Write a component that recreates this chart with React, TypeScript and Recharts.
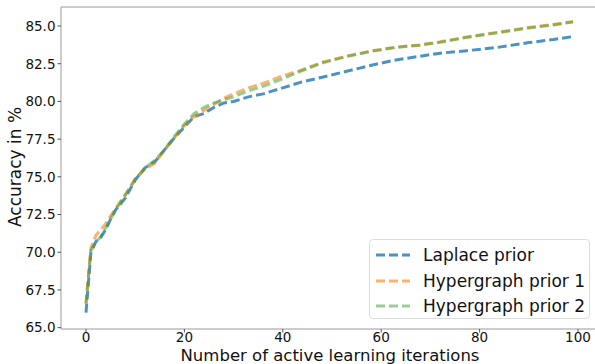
import { LineChart, Line, XAxis, YAxis, ReferenceLine } from "recharts";

// values
const ITERATIONS = [0, 1, 2, 3, 4, 5, 6, 8, 10, 12, 14, 16, 18, 20, 22, 24, 26, 28, 30, 33, 36, 40, 44, 48, 53, 58, 63, 68, 72, 77, 84, 90, 95, 99];
const LAPLACE = [66.0, 70.0, 70.7, 71.0, 71.5, 72.2, 72.8, 73.6, 74.8, 75.6, 76.0, 76.8, 77.6, 78.3, 79.0, 79.2, 79.6, 79.9, 80.0, 80.3, 80.5, 80.9, 81.3, 81.6, 82.0, 82.4, 82.75, 83.0, 83.2, 83.35, 83.6, 83.9, 84.1, 84.3];
const HYPER_1 = [66.6, 70.3, 71.1, 71.5, 71.9, 72.4, 72.9, 73.8, 74.9, 75.5, 75.9, 76.8, 77.6, 78.4, 79.0, 79.4, 79.8, 80.2, 80.5, 80.9, 81.2, 81.7, 82.1, 82.6, 83.0, 83.35, 83.6, 83.75, 83.95, 84.25, 84.6, 84.9, 85.1, 85.3];
const HYPER_2 = [66.6, 70.1, 70.7, 71.0, 71.6, 72.2, 72.8, 73.8, 74.8, 75.6, 76.1, 76.8, 77.7, 78.5, 79.2, 79.6, 79.9, 80.1, 80.3, 80.7, 81.0, 81.5, 82.05, 82.55, 82.98, 83.32, 83.58, 83.73, 83.92, 84.22, 84.57, 84.87, 85.07, 85.27];

const X_TICKS = [0, 20, 40, 60, 80, 100];
const Y_TICKS = [65, 67.5, 70, 72.5, 75, 77.5, 80, 82.5, 85];
const Y_DOMAIN = [64.91, 86.26];

const SERIES = [
    { key: "laplace", name: "Laplace prior", color: "#1f77b4", opacity: 0.8 },
    { key: "hyper1", name: "Hypergraph prior 1", color: "#ff7f0e", opacity: 0.6 },
    { key: "hyper2", name: "Hypergraph prior 2", color: "#2ca02c", opacity: 0.5 },
];

const data = ITERATIONS.map((it, i) => ({
    it,
    laplace: LAPLACE[i],
    hyper1: HYPER_1[i],
    hyper2: HYPER_2[i],
}));

const FONT = "'DejaVu Sans', sans-serif";
const tickStyle = { fontSize: 13.5, fill: "#111", fontFamily: FONT };

export default function App() {
    return (
        <div
            style={{
                position: "absolute",
                left: 0,
                top: 0,
                width: 595,
                height: 364,
                overflow: "hidden",
                background: "#fff",
                fontFamily: FONT,
            }}
        >
            <LineChart
                width={597}
                height={364}
                data={data}
                margin={{ top: 7, right: 0, bottom: 0, left: 0 }}
            >
                <XAxis
                    dataKey="it"
                    type="number"
                    domain={[-5.08, 103.86]}
                    ticks={X_TICKS}
                    allowDataOverflow
                    height={35}
                    tick={tickStyle}
                    tickSize={3.5}
                    tickMargin={0}
                    axisLine={{ stroke: "#9a9a9a" }}
                    tickLine={{ stroke: "#555" }}
                    label={{
                        content: () => (
                            <text
                                x={330}
                                y={360.8}
                                textAnchor="middle"
                                fontSize={16.5}
                                fontFamily={FONT}
                                fill="#111"
                            >
                                Number of active learning iterations
                            </text>
                        ),
                    }}
                />
                <YAxis
                    type="number"
                    domain={Y_DOMAIN}
                    ticks={Y_TICKS}
                    allowDataOverflow
                    width={61}
                    tick={tickStyle}
                    tickSize={3.5}
                    tickMargin={2}
                    tickFormatter={(v: number) => v.toFixed(1)}
                    axisLine={{ stroke: "#9a9a9a" }}
                    tickLine={{ stroke: "#555" }}
                    label={{
                        content: () => (
                            <text
                                x={15}
                                y={167}
                                transform="rotate(-90 15 167)"
                                textAnchor="middle"
                                dominantBaseline="central"
                                fontSize={17}
                                fontFamily={FONT}
                                fill="#111"
                            >
                                Accuracy in %
                            </text>
                        ),
                    }}
                />
                {/* top spine */}
                <ReferenceLine y={Y_DOMAIN[1]} stroke="#9a9a9a" strokeWidth={1} ifOverflow="visible" />
                {SERIES.map((s) => (
                    <Line
                        key={s.key}
                        dataKey={s.key}
                        name={s.name}
                        type="linear"
                        stroke={s.color}
                        strokeOpacity={s.opacity}
                        strokeWidth={3}
                        strokeDasharray="9 4"
                        dot={false}
                        activeDot={false}
                        isAnimationActive={false}
                    />
                ))}
            </LineChart>

            {/* legend box, lower right */}
            <div
                style={{
                    position: "absolute",
                    left: 369,
                    top: 239,
                    width: 221,
                    height: 80,
                    border: "1px solid #ddd",
                    borderRadius: 4,
                    background: "rgba(255,255,255,0.8)",
                    boxSizing: "border-box",
                }}
            >
                {SERIES.map((s, i) => (
                    <div
                        key={s.key}
                        style={{
                            position: "absolute",
                            left: 6,
                            top: 3 + i * 25.5,
                            height: 24,
                            display: "flex",
                            alignItems: "center",
                            whiteSpace: "nowrap",
                        }}
                    >
                        <svg width={34} height={6} style={{ display: "block" }}>
                            <line
                                x1={0}
                                y1={3}
                                x2={34}
                                y2={3}
                                stroke={s.color}
                                strokeOpacity={s.opacity}
                                strokeWidth={3}
                                strokeDasharray="9 4"
                            />
                        </svg>
                        <span
                            style={{
                                marginLeft: 13,
                                fontSize: 17,
                                color: "#111",
                                lineHeight: "24px",
                            }}
                        >
                            {s.name}
                        </span>
                    </div>
                ))}
            </div>
        </div>
    );
}
